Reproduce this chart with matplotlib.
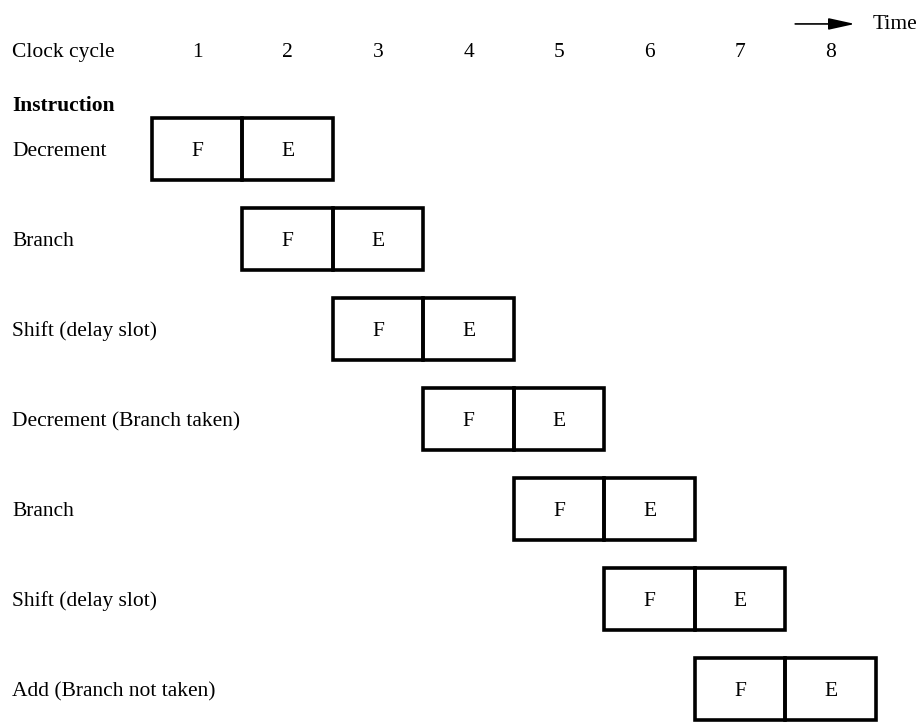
import matplotlib.pyplot as plt
from matplotlib.patches import Rectangle

# instruction names and the clock cycle in which each one is fetched
instructions = ["Decrement", "Branch", "Shift (delay slot)", "Decrement (Branch taken)",
                "Branch", "Shift (delay slot)", "Add (Branch not taken)"]
fetch_cycle = [1, 2, 3, 4, 5, 6, 7]
stages = ["F", "E"]
cycles = [1, 2, 3, 4, 5, 6, 7, 8]

plt.rcParams['font.family'] = ['Liberation Serif', 'DejaVu Serif']

fig = plt.figure(figsize=(9.21, 7.22), dpi=100)
ax = fig.add_axes([0, 0, 1, 1])
ax.set_xlim(-1.177, 9.0)
ax.set_ylim(6.367, -1.656)
ax.axis("off")

fs = 15.5
# header
ax.text(-1.044, -1.1, "Clock cycle", fontsize=fs, va="center_baseline", ha="left")
for c in cycles:
    ax.text(c, -1.1, str(c), fontsize=fs, va="center_baseline", ha="center")
ax.text(-1.044, -0.51, "Instruction", fontsize=fs, fontweight="bold",
        va="center_baseline", ha="left")

# time arrow
ax.annotate("", xy=(8.27, -1.39), xytext=(7.61, -1.39),
            arrowprops=dict(arrowstyle="-|>,head_length=1.0,head_width=0.22",
                            color="black", lw=1.2, mutation_scale=16, shrinkA=0, shrinkB=0))
ax.text(8.46, -1.41, "Time", fontsize=fs, va="center_baseline", ha="left")

# pipeline rows
h = 0.69
for r, (name, fc) in enumerate(zip(instructions, fetch_cycle)):
    ax.text(-1.044, r, name, fontsize=fs, va="center_baseline", ha="left")
    for k, s in enumerate(stages):
        c = fc + k
        ax.add_patch(Rectangle((c - 0.5, r - h / 2), 1.0, h, fill=False,
                               edgecolor="black", lw=2.6))
        ax.text(c, r, s, fontsize=fs, va="center_baseline", ha="center")

fig.savefig("out.png", dpi=100)
